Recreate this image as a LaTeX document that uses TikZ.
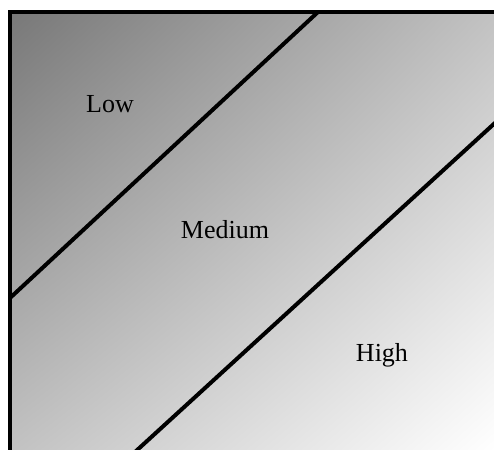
\documentclass[tikz,border=0pt]{standalone}
\usepackage{fontspec}
\setmainfont{Liberation Serif}
\usetikzlibrary{shadings}

\tikzset{
  zoneline/.style={line width=2pt,black},
  zonelabel/.style={font=\fontsize{13}{15}\selectfont,inner sep=0pt}
}

\begin{document}
\begin{tikzpicture}[x=0.5pt,y=-0.5pt]
\useasboundingbox (0,0) rectangle (494,450);
\clip (0,0) rectangle (494,450);
% shaded field
\shade[upper left=black!53,upper right=black!24,lower left=black!24,lower right=white]
  (10,12) rectangle (494,450);
% frame
\draw[zoneline] (10,460) -- (10,12) -- (500,12);
% boundaries between zones
\draw[zoneline] (10,298) -- (318,12);
\draw[zoneline] (135,452) -- (496,122);
% zone names
\node[zonelabel] (low) at (110,104) {Low};
\node[zonelabel] (medium) at (225,230) {Medium};
\node[zonelabel] (high) at (382,355) {High};
\end{tikzpicture}
\end{document}
